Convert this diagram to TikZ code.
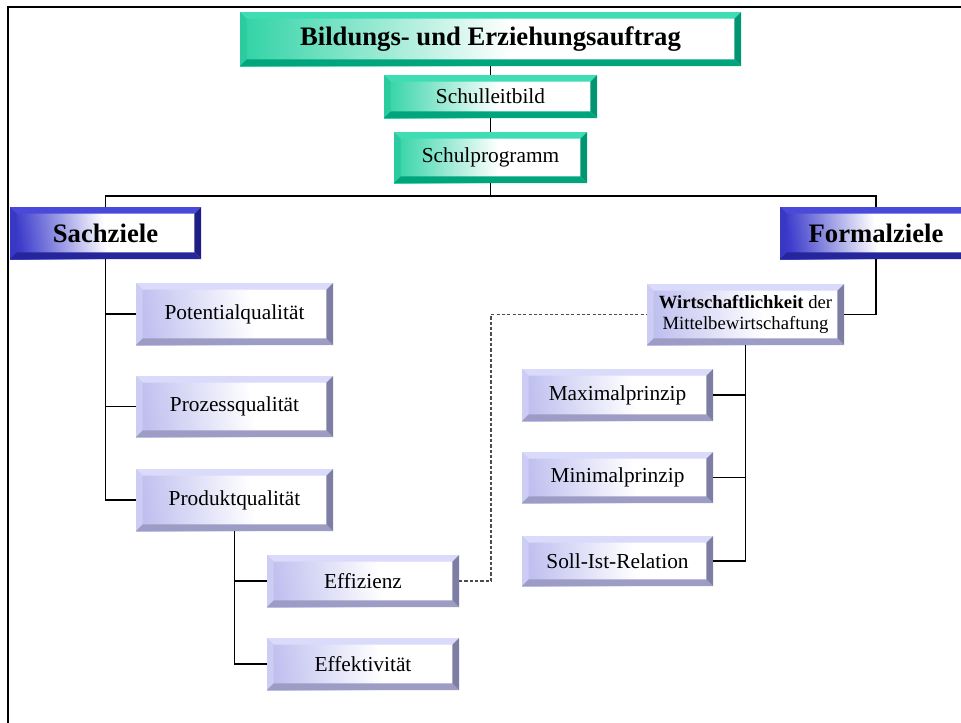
\documentclass[tikz,border=0pt]{standalone}
\usepackage{fontspec}
\setmainfont{Liberation Serif}
\usetikzlibrary{calc}

% colours of the three box families
\definecolor{gface}{HTML}{2FD3A5}
\definecolor{gtop}{HTML}{3EDDB3}
\definecolor{gleft}{HTML}{2CCB9F}
\definecolor{gbot}{HTML}{00A57E}
\definecolor{gright}{HTML}{009672}
\definecolor{bface}{HTML}{3C3CCC}
\definecolor{btop}{HTML}{4A4ADA}
\definecolor{bleft}{HTML}{3838C4}
\definecolor{bbot}{HTML}{26269C}
\definecolor{bright}{HTML}{1E1E86}
\definecolor{lface}{HTML}{C0C0F0}
\definecolor{ltop}{HTML}{DADAFA}
\definecolor{lleft}{HTML}{CCCCF4}
\definecolor{lbot}{HTML}{9C9CC4}
\definecolor{lright}{HTML}{7E7EA4}

\pgfdeclarehorizontalshading{greenfade}{100bp}{color(0bp)=(gface); color(25bp)=(gface); color(52bp)=(white); color(100bp)=(white)}
\pgfdeclarehorizontalshading{bluefade}{100bp}{color(0bp)=(bface); color(25bp)=(bface); color(50bp)=(white); color(100bp)=(white)}
\pgfdeclarehorizontalshading{lilacfade}{100bp}{color(0bp)=(lface); color(25bp)=(lface); color(55bp)=(white); color(100bp)=(white)}

\newlength\bevw
\setlength\bevw{5pt}
% four bevel faces inside a rectangular node: top, left, bottom, right
\newcommand\bevelfaces[4]{%
  \fill[#1] (path picture bounding box.north west) -- (path picture bounding box.north east)
     -- ([shift={(-\bevw,-\bevw)}]path picture bounding box.north east)
     -- ([shift={(\bevw,-\bevw)}]path picture bounding box.north west) -- cycle;
  \fill[#2] (path picture bounding box.north west) -- ([shift={(\bevw,-\bevw)}]path picture bounding box.north west)
     -- ([shift={(\bevw,\bevw)}]path picture bounding box.south west) -- (path picture bounding box.south west) -- cycle;
  \fill[#3] (path picture bounding box.south west) -- ([shift={(\bevw,\bevw)}]path picture bounding box.south west)
     -- ([shift={(-\bevw,\bevw)}]path picture bounding box.south east) -- (path picture bounding box.south east) -- cycle;
  \fill[#4] (path picture bounding box.south east) -- ([shift={(-\bevw,\bevw)}]path picture bounding box.south east)
     -- ([shift={(-\bevw,-\bevw)}]path picture bounding box.north east) -- (path picture bounding box.north east) -- cycle;
}

\tikzset{
  wh/.style 2 args={minimum width=#1*0.75pt, minimum height=#2*0.75pt},
  boxbase/.style={rectangle, inner sep=0pt, outer sep=0pt, text=black, align=center},
  greenbox/.style={boxbase, shade, shading=greenfade,
    path picture={\bevelfaces{gtop}{gleft}{gbot}{gright}}},
  bluebox/.style={boxbase, shade, shading=bluefade, shading angle=8,
    path picture={\bevelfaces{btop}{bleft}{bbot}{bright}}},
  lilacbox/.style={boxbase, shade, shading=lilacfade, shading angle=8,
    path picture={\bevelfaces{ltop}{lleft}{lbot}{lright}}},
  headfont/.style={font=\bfseries\fontsize{20}{24}\selectfont},
  bodyfont/.style={font=\fontsize{16}{19}\selectfont},
  smallfont/.style={font=\fontsize{14}{16}\selectfont},
  link/.style={draw=black, line width=0.8pt},
  dotlink/.style={draw=black!70, line width=0.8pt, dash pattern=on 2.4pt off 1.6pt},
}

\begin{document}
\begin{tikzpicture}[x=0.75pt, y=-0.75pt]
\useasboundingbox (0,0) rectangle (961,722);
\clip (0,0) rectangle (961,722);
\fill[white] (0,0) rectangle (961,722);

% frame
\draw[line width=2.2pt] (8,740) -- (8,7) -- (980,7);

% boxes
\node[greenbox, headfont, wh={501}{54}] (auftrag) at (490.5,39) {Bildungs- und Erziehungsauftrag};
\node[greenbox, bodyfont, wh={213}{43}] (leitbild) at (490.5,96.5) {Schulleitbild};
\node[greenbox, bodyfont, wh={193}{51}] (programm) at (490.5,157.5) {Schulprogramm};

\node[bluebox, headfont, wh={191}{52}] (sach) at (105.5,233) {Sachziele};
\node[bluebox, headfont, wh={192}{52}] (formal) at (876,233) {Formalziele};

\node[lilacbox, bodyfont, wh={197}{62}] (potential) at (234.5,314) {Potentialqualität};
\node[lilacbox, bodyfont, wh={197}{61}] (prozess) at (234.5,406.5) {Prozessqualität};
\node[lilacbox, bodyfont, wh={197}{62}] (produkt) at (234.5,500) {Produktqualität};
\node[lilacbox, bodyfont, wh={192}{52}] (effizienz) at (363,581) {Effizienz};
\node[lilacbox, bodyfont, wh={192}{52}] (effektiv) at (363,664) {Effektivität};

\node[lilacbox, smallfont, wh={197}{61}] (wirt) at (745.5,314.5) {{\bfseries Wirtschaftlichkeit} der\\Mittelbewirtschaftung};
\node[lilacbox, bodyfont, wh={191}{52}] (maximal) at (617.5,395) {Maximalprinzip};
\node[lilacbox, bodyfont, wh={191}{51}] (minimal) at (617.5,477.5) {Minimalprinzip};
\node[lilacbox, bodyfont, wh={191}{50}] (sollist) at (617.5,561) {Soll-Ist-Relation};

% connectors
\coordinate (hub) at (490.5,196);
\coordinate (bend) at (491,314.5);

\draw[link] (auftrag) -- (leitbild);
\draw[link] (leitbild) -- (programm);
\draw[link] (programm) -- (hub);
\draw[link] (sach.north) |- (hub) -| (formal.north);

\draw[link] (sach.south) |- (potential.west);
\draw[link] (sach.south) |- (prozess.west);
\draw[link] (sach.south) |- (produkt.west);

\draw[link] (produkt.south) |- (effizienz.west);
\draw[link] (produkt.south) |- (effektiv.west);

\draw[link] (formal.south) |- (wirt.east);
\draw[link] (wirt.south) |- (maximal.east);
\draw[link] (wirt.south) |- (minimal.east);
\draw[link] (wirt.south) |- (sollist.east);

\draw[dotlink] (effizienz.east) -| (bend) -- (wirt.west);
\end{tikzpicture}
\end{document}
